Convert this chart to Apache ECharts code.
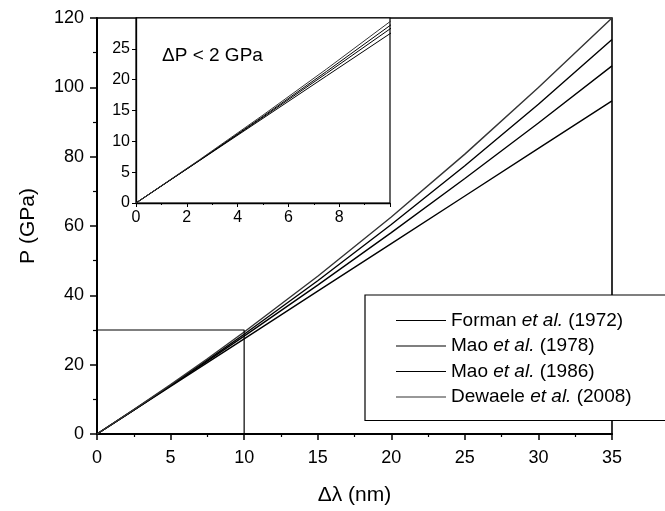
<!DOCTYPE html>
<html>
<head>
<meta charset="utf-8">
<script src="https://cdn.jsdelivr.net/npm/echarts@6/dist/echarts.min.js"></script>
<style>
  html, body { margin: 0; padding: 0; background: #fff; }
  #chart { width: 665px; height: 511px; }
</style>
</head>
<body>
<div id="chart"></div>
<script>
// Δλ (nm) sample points
var dLambda = [0, 2.5, 5, 7.5, 10, 15, 20, 25, 30, 35];
// Pressure (GPa)
var forman1972  = [0, 6.87, 13.73, 20.60, 27.46, 41.19, 54.92, 68.65, 82.38, 96.1];
var mao1978     = [0, 6.91, 13.91, 21.02, 28.23, 42.96, 58.10, 73.70, 89.70, 106.2];
var mao1986     = [0, 6.94, 14.05, 21.33, 28.78, 44.22, 60.42, 77.38, 95.14, 113.8];
var dewaele2008 = [0, 7.02, 14.26, 21.72, 29.41, 45.51, 62.60, 80.73, 99.98, 120.0];
var seriesNames = ['Forman et al. (1972)', 'Mao et al. (1978)', 'Mao et al. (1986)', 'Dewaele et al. (2008)'];
// zoom box drawn in the main panel (Δλ ≤ 10 nm, P ≤ 30 GPa)
var zoomBoxX = [0, 10, 10];
var zoomBoxY = [30, 30, 0];
var insetNote = 'ΔP < 2 GPa';

var FONT = "'Liberation Sans', Arial, Helvetica, sans-serif";
var allData = [forman1972, mao1978, mao1986, dewaele2008];
var lineColors = ['#000', '#000', '#000', '#333'];

function pairs(xs, ys) { return xs.map(function (x, i) { return [x, ys[i]]; }); }

var series = [];
allData.forEach(function (vals, i) {
  series.push({
    name: seriesNames[i], type: 'line', xAxisIndex: 0, yAxisIndex: 0,
    data: pairs(dLambda, vals), symbol: 'none', clip: true,
    lineStyle: { color: lineColors[i], width: 1.4 }, itemStyle: { color: lineColors[i] }
  });
});
allData.forEach(function (vals, i) {
  series.push({
    name: seriesNames[i], type: 'line', xAxisIndex: 1, yAxisIndex: 1,
    data: pairs(dLambda, vals), symbol: 'none', clip: true,
    lineStyle: { color: lineColors[i], width: 1 }, itemStyle: { color: lineColors[i] }
  });
});
series.push({
  name: 'box', type: 'line', xAxisIndex: 0, yAxisIndex: 0, silent: true,
  data: pairs(zoomBoxX, zoomBoxY), symbol: 'none',
  lineStyle: { color: '#000', width: 1.2 }
});

var axisLine = { show: true, lineStyle: { color: '#000', width: 2 } };

var option = {
  backgroundColor: '#fff',
  animation: false,
  textStyle: { fontFamily: FONT, color: '#000' },
  grid: [
    { left: 97, top: 18, width: 515, height: 416, show: true, borderColor: '#000', borderWidth: 1.6, backgroundColor: 'transparent' },
    { left: 136, top: 18, width: 254, height: 185, show: true, borderColor: '#000', borderWidth: 1.2, backgroundColor: '#fff' }
  ],
  xAxis: [
    {
      gridIndex: 0, type: 'value', min: 0, max: 35, interval: 5,
      name: 'Δλ (nm)', nameLocation: 'middle', nameGap: 51,
      nameTextStyle: { fontSize: 21, fontFamily: FONT, color: '#000' },
      axisLine: axisLine,
      axisTick: { show: true, inside: false, length: 6, lineStyle: { color: '#000', width: 1.5 } },
      minorTick: { show: true, splitNumber: 2, length: 3, lineStyle: { color: '#000', width: 1.2 } },
      axisLabel: { fontSize: 18, fontFamily: FONT, color: '#000', margin: 15 },
      splitLine: { show: false }
    },
    {
      gridIndex: 1, type: 'value', min: 0, max: 10, interval: 2,
      axisLine: { show: true, lineStyle: { color: '#000', width: 1.3 } },
      axisTick: { show: true, inside: false, length: 4, lineStyle: { color: '#000' } },
      minorTick: { show: true, splitNumber: 2, length: 2, lineStyle: { color: '#000' } },
      axisLabel: { fontSize: 16, fontFamily: FONT, color: '#000', margin: 7, showMaxLabel: false },
      splitLine: { show: false }
    }
  ],
  yAxis: [
    {
      gridIndex: 0, type: 'value', min: 0, max: 120, interval: 20,
      name: 'P (GPa)', nameLocation: 'middle', nameGap: 58,
      nameTextStyle: { fontSize: 21, fontFamily: FONT, color: '#000' },
      axisLine: axisLine,
      axisTick: { show: true, inside: false, length: 7, lineStyle: { color: '#000', width: 1.5 } },
      minorTick: { show: true, splitNumber: 2, length: 4, lineStyle: { color: '#000', width: 1.2 } },
      axisLabel: { fontSize: 18, fontFamily: FONT, color: '#000', margin: 13 },
      splitLine: { show: false }
    },
    {
      gridIndex: 1, type: 'value', min: 0, max: 30, interval: 5,
      axisLine: { show: true, lineStyle: { color: '#000', width: 1.3 } },
      axisTick: { show: true, inside: false, length: 4, lineStyle: { color: '#000' } },
      axisLabel: { fontSize: 16, fontFamily: FONT, color: '#000', margin: 6, showMaxLabel: false },
      splitLine: { show: false }
    }
  ],
  legend: {
    data: seriesNames,
    orient: 'vertical',
    left: 365, top: 295,
    padding: [16, 60, 14, 31],
    backgroundColor: '#fff',
    borderColor: '#000', borderWidth: 1.2,
    itemWidth: 50, itemHeight: 14, itemGap: 6.5,
    icon: 'path://M0,6 L50,6 L50,7.2 L0,7.2 Z',
    selectedMode: false,
    formatter: function (name) {
      var parts = name.split('et al.');
      return '{n|' + parts[0] + '}{i|et al.}{n|' + parts[1] + '}';
    },
    textStyle: {
      fontFamily: FONT, fontSize: 19, color: '#000',
      rich: {
        n: { fontFamily: FONT, fontSize: 19, color: '#000', lineHeight: 20 },
        i: { fontFamily: FONT, fontSize: 19, color: '#000', fontStyle: 'italic', lineHeight: 20 }
      }
    }
  },
  graphic: [
    {
      type: 'text', left: 162, top: 46, z: 10,
      style: { text: insetNote, font: "19px 'Liberation Sans', Arial, sans-serif", fill: '#000' }
    }
  ],
  series: series
};

var chart = echarts.init(document.getElementById('chart'), null, { renderer: 'canvas' });
chart.setOption(option);
</script>
</body>
</html>
